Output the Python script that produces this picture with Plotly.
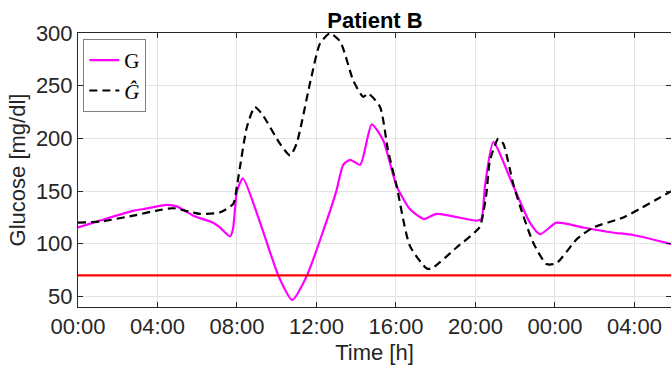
import plotly.graph_objects as go

# Time in hours since 00:00 of day 1
t_g = [0, 1.1, 2.8, 3.3, 4.46, 4.97, 5.8, 6.8, 7.14, 7.65, 7.8, 8.0, 8.3, 9.2, 10.1, 10.78, 11.5,
       12.3, 13.0, 13.35, 13.7, 14.2, 14.78, 15.36, 16.03, 16.7, 17.4, 18.05, 20.06, 20.3, 20.48,
       20.9, 21.9, 22.74, 23.25, 24.08, 25.4, 26.9, 27.94, 29.85]
g_vals = [115.5, 122, 131.5, 133, 137, 135.5, 126.7, 120, 115.5, 107, 114, 150, 162, 118, 69, 46.7, 69,
          110, 150, 175, 179.7, 175, 213.3, 198, 155, 133, 123.5, 128.3, 122, 123.5, 155,
          196.5, 155, 120, 109, 120, 115.5, 110.7, 108.3, 99.7]

t_gh = [0, 1.1, 2.78, 3.96, 4.8, 6.14, 7.14, 7.81, 8.0, 8.15, 8.5, 8.9, 9.3, 10.16, 10.67, 11.0,
        11.67, 12.18, 12.68, 13.2, 13.85, 14.35, 14.6, 15.2, 15.6, 16.03, 16.7, 17.55, 17.8, 19.05,
        20.2, 20.4, 20.56, 20.73, 21.15, 21.4, 21.9, 22.24, 22.9, 23.58, 24.08, 25.1, 25.93, 27.44, 29.85]
gh_vals = [120, 121, 126.7, 131.5, 133.7, 128.3, 129.8, 137.8, 155, 172.7, 210.8, 229.8, 222, 195, 183.8, 195,
           252, 290, 299.7, 291.7, 255, 239.4, 242.6, 229.8, 188.6, 155, 98, 76.5, 76.5, 96.5,
           115.5, 129.8, 149, 179, 199.7, 195, 157, 136, 101.3, 80.7, 81.6, 104.4, 115.5, 125, 150]

hypo_level = 70
tick_vals = [0, 4, 8, 12, 16, 20, 24, 28]
tick_text = ["00:00", "04:00", "08:00", "12:00", "16:00", "20:00", "00:00", "04:00"]
y_ticks = [50, 100, 150, 200, 250, 300]

x_range = [0, 29.84]

fig = go.Figure()
fig.add_trace(go.Scatter(x=t_g, y=g_vals, mode="lines", name="G",
                         line=dict(color="#ff00ff", width=2.2, shape="spline", smoothing=0.6)))
fig.add_trace(go.Scatter(x=t_gh, y=gh_vals, mode="lines", name="<i>Ĝ</i>",
                         line=dict(color="black", width=2.2, dash="8px,5px", shape="spline", smoothing=0.6)))
fig.add_trace(go.Scatter(x=x_range, y=[hypo_level, hypo_level], mode="lines", showlegend=False,
                         line=dict(color="#ff0000", width=2.2)))

axis_col = "#262626"
fig.update_layout(
    width=671, height=370,
    margin=dict(l=78, r=0, t=33, b=63),
    paper_bgcolor="white", plot_bgcolor="white",
    font=dict(family="Liberation Sans, Arial, sans-serif", color=axis_col, size=22),
    title=dict(text="<b>Patient B</b>", x=375 / 671, xanchor="center", y=1 - 20 / 370, yanchor="middle",
               font=dict(size=22, color="black")),
    showlegend=True,
    legend=dict(x=0.009, y=0.978, xanchor="left", yanchor="top",
                bgcolor="white", bordercolor="#808080", borderwidth=1,
                font=dict(family="Liberation Serif, DejaVu Serif, serif", size=21, color="black"),
                itemwidth=30, tracegroupgap=0),
)
fig.update_xaxes(range=x_range, tickvals=tick_vals, ticktext=tick_text,
                 showgrid=True, gridcolor="#e3e3e3", gridwidth=1,
                 showline=True, linecolor=axis_col, linewidth=1, mirror="ticks",
                 ticks="inside", ticklen=5, tickcolor=axis_col, zeroline=False,
                 tickfont=dict(size=22),
                 title=dict(text="Time [h]", font=dict(size=22), standoff=6))
fig.update_yaxes(range=[40, 300], tickvals=y_ticks,
                 showgrid=True, gridcolor="#e3e3e3", gridwidth=1,
                 showline=True, linecolor=axis_col, linewidth=1, mirror="ticks",
                 ticks="inside", ticklen=5, tickcolor=axis_col, zeroline=False,
                 tickfont=dict(size=22),
                 title=dict(text="Glucose [mg/dl]", font=dict(size=22), standoff=4))

fig.write_html("out.html")
